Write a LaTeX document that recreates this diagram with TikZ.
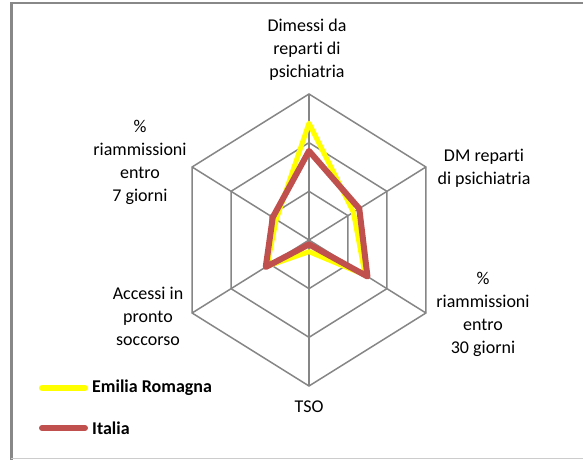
\documentclass[tikz,border=0pt]{standalone}
\usepackage{fontspec}
\setmainfont{Carlito}[Ligatures=NoCommon]
\usetikzlibrary{positioning,calc}

\definecolor{gridgray}{RGB}{134,134,134}
\definecolor{framegray}{RGB}{136,136,136}
\definecolor{erYellow}{RGB}{255,255,0}
\definecolor{itRed}{RGB}{192,80,77}

\begin{document}
\begin{tikzpicture}[x=1pt, y=1pt]
        % Define styles
        \tikzset{
            grid/.style={draw=gridgray, line width=1.5pt, line join=miter},
            axislabel/.style={align=center, font=\fontsize{18}{23}\selectfont, inner sep=0pt},
            legendtext/.style={anchor=west, font=\fontsize{18}{23}\selectfont\bfseries, inner sep=0pt},
            series/.style={line width=#1, line join=round, line cap=round}
        }
        \useasboundingbox (0,0) rectangle (583,460);

        % Frame
        \draw[framegray, line width=2pt] (10,457) -- (583,457);
        \draw[framegray, line width=3pt] (11,457) -- (11,0);
        \draw[gray!40, line width=1pt] (11,2) -- (583,2);

        % Radar grid (centre of the chart)
        \coordinate (C) at (309,220);
        \begin{scope}[shift={(C)}, x=135pt, y=146pt]
            \foreach \r in {1/3,2/3,1} {
                \draw[grid] (90:\r) -- (30:\r) -- (-30:\r) -- (-90:\r) -- (-150:\r) -- (150:\r) -- cycle;
            }
            \foreach \a in {90,30,-30,-90,-150,150} {
                \draw[grid] (0,0) -- (\a:1);
            }

            % Data series
            \draw[series=5pt, erYellow] (90:0.80) -- (30:0.38) -- (-30:0.48) -- (-90:0.08) -- (-150:0.36) -- (150:0.28) -- cycle;
            \draw[series=6pt, itRed] (90:0.61) -- (30:0.43) -- (-30:0.50) -- (-90:0.03) -- (-150:0.37) -- (150:0.31) -- cycle;
        \end{scope}

        % Axis labels
        \node[axislabel] (dimessi) at (307,410) {Dimessi da\\reparti di\\psichiatria};
        \node[axislabel] (dm) at (484,292) {DM reparti\\di psichiatria};
        \node[axislabel] (riam30) at (483,146) {\%\\riammissioni\\entro\\30 giorni};
        \node[axislabel] (tso) at (309,53) {TSO};
        \node[axislabel] (accessi) at (148,144) {Accessi in\\pronto\\soccorso};
        \node[axislabel] (riam7) at (140,298) {\%\\riammissioni\\entro\\7 giorni};

        % Legend
        \coordinate (erA) at (42,72);
        \coordinate (erB) at (85,72);
        \coordinate (itA) at (42,32);
        \coordinate (itB) at (85,32);
        \draw[series=6pt, erYellow] (erA) -- (erB);
        \draw[series=6pt, itRed] (itA) -- (itB);
        \node[legendtext, right=7pt of erB] (erlabel) {Emilia Romagna};
        \node[legendtext, right=7pt of itB] (itlabel) {Italia};
    \end{tikzpicture}
\end{document}
